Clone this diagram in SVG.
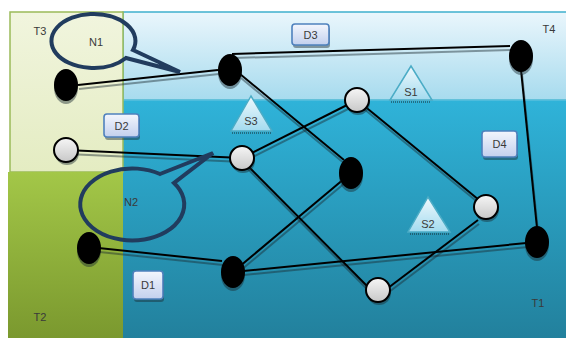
<svg xmlns="http://www.w3.org/2000/svg" width="566" height="338" viewBox="0 0 566 338">
<defs>
<linearGradient id="gTop" x1="0" y1="0" x2="0" y2="1"><stop offset="0" stop-color="#eaf6fc"/><stop offset="1" stop-color="#a7dbee"/></linearGradient>
<linearGradient id="gLow" x1="0" y1="0" x2="0" y2="1"><stop offset="0" stop-color="#2fb3d9"/><stop offset="1" stop-color="#22809c"/></linearGradient>
<linearGradient id="gYel" x1="0" y1="0" x2="0" y2="1"><stop offset="0" stop-color="#f1f5de"/><stop offset="1" stop-color="#e4ecc2"/></linearGradient>
<linearGradient id="gGrn" x1="0" y1="0" x2="0" y2="1"><stop offset="0" stop-color="#a3c748"/><stop offset="1" stop-color="#7a982e"/></linearGradient>
<linearGradient id="gBox" x1="0" y1="0" x2="0" y2="1"><stop offset="0" stop-color="#f3f6fd"/><stop offset="1" stop-color="#c3d0ee"/></linearGradient>
<linearGradient id="gTri" x1="0" y1="0" x2="0" y2="1"><stop offset="0" stop-color="#f0f9fd"/><stop offset="1" stop-color="#a3dbef"/></linearGradient>
<linearGradient id="gWhite" x1="0" y1="0" x2="0" y2="1"><stop offset="0" stop-color="#f6f6f6"/><stop offset="1" stop-color="#c8c8c8"/></linearGradient>
</defs>
<style>
.lbl{font-family:"Liberation Sans",Arial,sans-serif;font-size:11px;fill:#3a3a3a;text-anchor:middle}
.edge{stroke:#000;stroke-width:2;fill:none}
.eshadow{stroke:#1a2a30;stroke-width:2;stroke-opacity:0.45;fill:none}
.blk{fill:#000}
.wht{fill:url(#gWhite);stroke:#000;stroke-width:2}
.nsh{fill:#1a2a30;fill-opacity:0.45}
.box{fill:url(#gBox);stroke:#4f81bd;stroke-width:1.6}
.bsh{fill:#1a2a30;fill-opacity:0.45}
.tri{fill:url(#gTri);stroke:#4bacc6;stroke-width:1.5}
.call{fill:none;stroke:#213c5e;stroke-width:4;stroke-linejoin:miter}
</style>
<g id="background">
<rect x="0" y="0" width="566" height="338" fill="#ffffff"/>
<rect x="123" y="12" width="450" height="88" fill="url(#gTop)" stroke="#3fb0cd" stroke-width="1.5"/>
<rect x="123" y="100" width="450" height="240" fill="url(#gLow)"/>
<line x1="123" y1="100" x2="566" y2="100" stroke="#6fc6df" stroke-width="1"/>
<rect x="10" y="12" width="113" height="160" fill="url(#gYel)" stroke="#9bbb59" stroke-width="1.5"/>
<rect x="8" y="172" width="115" height="168" fill="url(#gGrn)"/>
</g>
<g id="zone-labels">
<text class="lbl" x="40" y="35">T3</text>
<text class="lbl" x="549" y="33">T4</text>
<text class="lbl" x="40" y="321">T2</text>
<text class="lbl" x="538" y="307">T1</text>
</g>
<g id="S1"><line x1="391" y1="102" x2="431" y2="102" stroke="#1a2a30" stroke-opacity="0.5" stroke-width="2" stroke-dasharray="1 1"/><polygon class="tri" points="411,66 390,100 432,100"/><text class="lbl" x="411" y="96">S1</text></g>
<g id="S3"><line x1="232" y1="133" x2="271" y2="133" stroke="#1a2a30" stroke-opacity="0.5" stroke-width="2" stroke-dasharray="1 1"/><polygon class="tri" points="251,96 231,131 272,131"/><text class="lbl" x="251" y="125">S3</text></g>
<g id="S2"><line x1="410" y1="234" x2="449" y2="234" stroke="#1a2a30" stroke-opacity="0.5" stroke-width="2" stroke-dasharray="1 1"/><polygon class="tri" points="428,197 408,232 450,232"/><text class="lbl" x="428" y="228">S2</text></g>
<g id="D3"><rect class="bsh" x="293" y="27" width="37" height="21" rx="3"/><rect class="box" x="292" y="24" width="37" height="21" rx="3"/><text class="lbl" x="310.5" y="39">D3</text></g>
<g id="D2"><rect class="bsh" x="105" y="117" width="35" height="23" rx="3"/><rect class="box" x="104" y="114" width="35" height="23" rx="3"/><text class="lbl" x="121.5" y="129.5">D2</text></g>
<g id="D4"><rect class="bsh" x="483" y="134" width="35" height="26" rx="3"/><rect class="box" x="482" y="131" width="35" height="26" rx="3"/><text class="lbl" x="499.5" y="148">D4</text></g>
<g id="D1"><rect class="bsh" x="134" y="274" width="30" height="28" rx="3"/><rect class="box" x="133" y="271" width="30" height="28" rx="3"/><text class="lbl" x="148" y="289">D1</text></g>
<g id="connectors">
<g transform="translate(1,4)">
<line class="eshadow" x1="78" y1="85" x2="218" y2="70"/>
<line class="eshadow" x1="232" y1="54" x2="510" y2="46"/>
<line class="eshadow" x1="240" y1="74" x2="344" y2="160"/>
<line class="eshadow" x1="357" y1="100" x2="242" y2="158"/>
<line class="eshadow" x1="357" y1="100" x2="479" y2="200"/>
<line class="eshadow" x1="66" y1="150" x2="242" y2="158"/>
<line class="eshadow" x1="246" y1="164" x2="369" y2="288"/>
<line class="eshadow" x1="351" y1="173" x2="233" y2="272"/>
<line class="eshadow" x1="89" y1="247" x2="222" y2="261"/>
<line class="eshadow" x1="233" y1="272" x2="537" y2="242"/>
<line class="eshadow" x1="388" y1="288" x2="478" y2="220"/>
<line class="eshadow" x1="521" y1="70" x2="537" y2="228"/>
</g>
<line class="edge" x1="78" y1="85" x2="218" y2="70"/>
<line class="edge" x1="232" y1="54" x2="510" y2="46"/>
<line class="edge" x1="240" y1="74" x2="344" y2="160"/>
<line class="edge" x1="357" y1="100" x2="242" y2="158"/>
<line class="edge" x1="357" y1="100" x2="479" y2="200"/>
<line class="edge" x1="66" y1="150" x2="242" y2="158"/>
<line class="edge" x1="246" y1="164" x2="369" y2="288"/>
<line class="edge" x1="351" y1="173" x2="233" y2="272"/>
<line class="edge" x1="89" y1="247" x2="222" y2="261"/>
<line class="edge" x1="233" y1="272" x2="537" y2="242"/>
<line class="edge" x1="388" y1="288" x2="478" y2="220"/>
<line class="edge" x1="521" y1="70" x2="537" y2="228"/>
</g>
<g id="nA"><ellipse class="nsh" cx="66" cy="88" rx="12" ry="16"/><ellipse class="blk" cx="66" cy="85" rx="12" ry="16"/></g>
<g id="nB"><ellipse class="nsh" cx="230" cy="73" rx="12" ry="16"/><ellipse class="blk" cx="230" cy="70" rx="12" ry="16"/></g>
<g id="nC"><ellipse class="nsh" cx="521" cy="59" rx="12" ry="16"/><ellipse class="blk" cx="521" cy="56" rx="12" ry="16"/></g>
<g id="nD"><circle class="nsh" cx="358" cy="103" r="12"/><circle class="wht" cx="357" cy="100" r="12"/></g>
<g id="nE"><ellipse class="nsh" cx="351" cy="176" rx="12" ry="16"/><ellipse class="blk" cx="351" cy="173" rx="12" ry="16"/></g>
<g id="nF"><circle class="nsh" cx="243" cy="161" r="12"/><circle class="wht" cx="242" cy="158" r="12"/></g>
<g id="nG"><circle class="nsh" cx="67" cy="153" r="12"/><circle class="wht" cx="66" cy="150" r="12"/></g>
<g id="nH"><circle class="nsh" cx="487" cy="210" r="12"/><circle class="wht" cx="486" cy="207" r="12"/></g>
<g id="nI"><ellipse class="nsh" cx="89" cy="251" rx="12" ry="16"/><ellipse class="blk" cx="89" cy="248" rx="12" ry="16"/></g>
<g id="nJ"><ellipse class="nsh" cx="233" cy="275" rx="12" ry="16"/><ellipse class="blk" cx="233" cy="272" rx="12" ry="16"/></g>
<g id="nK"><circle class="nsh" cx="379" cy="293" r="12"/><circle class="wht" cx="378" cy="290" r="12"/></g>
<g id="nL"><ellipse class="nsh" cx="537" cy="245" rx="12" ry="16"/><ellipse class="blk" cx="537" cy="242" rx="12" ry="16"/></g>
<g id="N1"><path class="call" d="M 133 50 L 180 72 L 126 58 A 42 27 0 1 1 133 50 Z"/><text class="lbl" x="96" y="46">N1</text></g>
<g id="N2"><path class="call" d="M 160 174 L 213 153 L 174 183 A 52 36 0 1 1 160 174 Z"/><text class="lbl" x="131" y="206">N2</text></g>
</svg>
